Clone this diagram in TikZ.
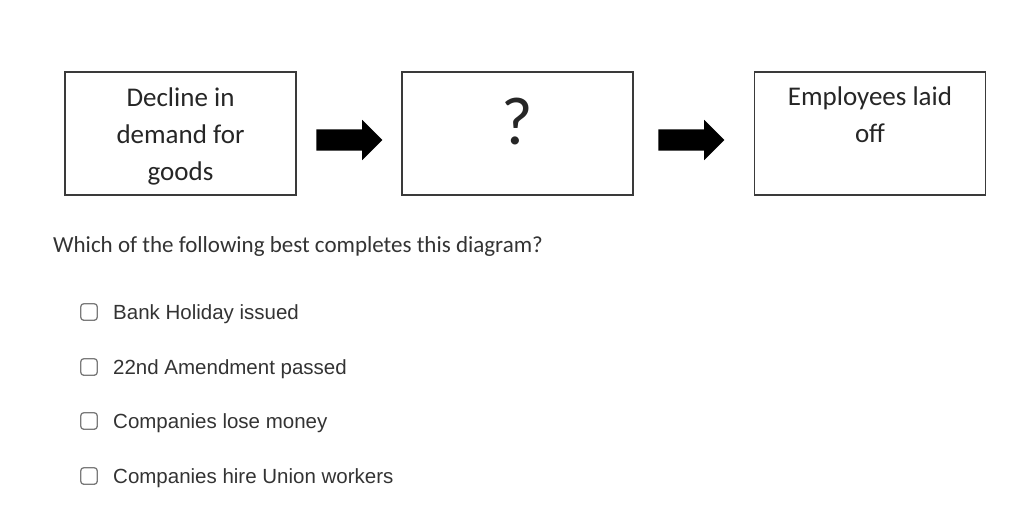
\documentclass[tikz,border=0pt]{standalone}
\usepackage{fontspec}
\setmainfont{Carlito}
\newfontfamily\optfont{Liberation Sans}
\usetikzlibrary{shapes.arrows,positioning}
\definecolor{boxline}{HTML}{3A3A3A}
\definecolor{qtext}{HTML}{333333}
\definecolor{tickgray}{HTML}{7A7A7A}
\tikzset{
  stagebox/.style={
    rectangle, draw=boxline, line width=1.3pt, fill=white,
    minimum width=231pt, minimum height=123pt
  },
  stagetext/.style={
    align=center, inner sep=0pt, font=\fontsize{27}{37}\selectfont, text=black!85
  },
  blockarrow/.style={
    single arrow, fill=black, draw=none, minimum height=66pt,
    inner xsep=0pt, inner ysep=10.5pt, single arrow head extend=9.5pt
  },
  tickbox/.style={
    rectangle, rounded corners=3pt, draw=tickgray, line width=1.3pt,
    minimum size=16.5pt, inner sep=0pt
  },
  opttext/.style={anchor=west, font=\optfont\fontsize{20.5}{22}\selectfont,
    text=qtext, inner sep=0pt, text height=14.7pt, text depth=0pt},
}
\begin{document}
\begin{tikzpicture}[x=1pt,y=-1pt]
  \useasboundingbox (0,0) rectangle (1033,514);
  \node[stagebox] (decline) at (180.5,133.5) {};
  \node[stagebox] (unknown) at (517.5,133.5) {};
  \node[stagebox] (laidoff) at (870,133.5) {};
  \node[stagetext] (declinetext) at (180.5,136.5) {Decline in\\demand for\\goods};
  \node[stagetext, font=\fontsize{68}{70}\selectfont] (unknowntext) at (517.5,122) {?};
  \node[stagetext] (laidofftext) at (870,115) {Employees laid\\off};
  \node[blockarrow] (arrowA) at (344,140) {};
  \node[blockarrow] (arrowB) at (686,140) {};
  \node[anchor=west, font=\fontsize{23}{26}\selectfont, text=qtext, inner sep=0pt] (question) at (53,246) {Which of the following best completes this diagram?};
  % answer choices
  \foreach \nm/\yy/\txt in {holiday/312/Bank Holiday issued,amend/367/22nd Amendment passed,money/421/Companies lose money,union/476/Companies hire Union workers}{
    \node[tickbox] (box\nm) at (89,\yy) {};
    \node[opttext] (opt\nm) at (113,\yy) {\txt};
  }
\end{tikzpicture}
\end{document}
